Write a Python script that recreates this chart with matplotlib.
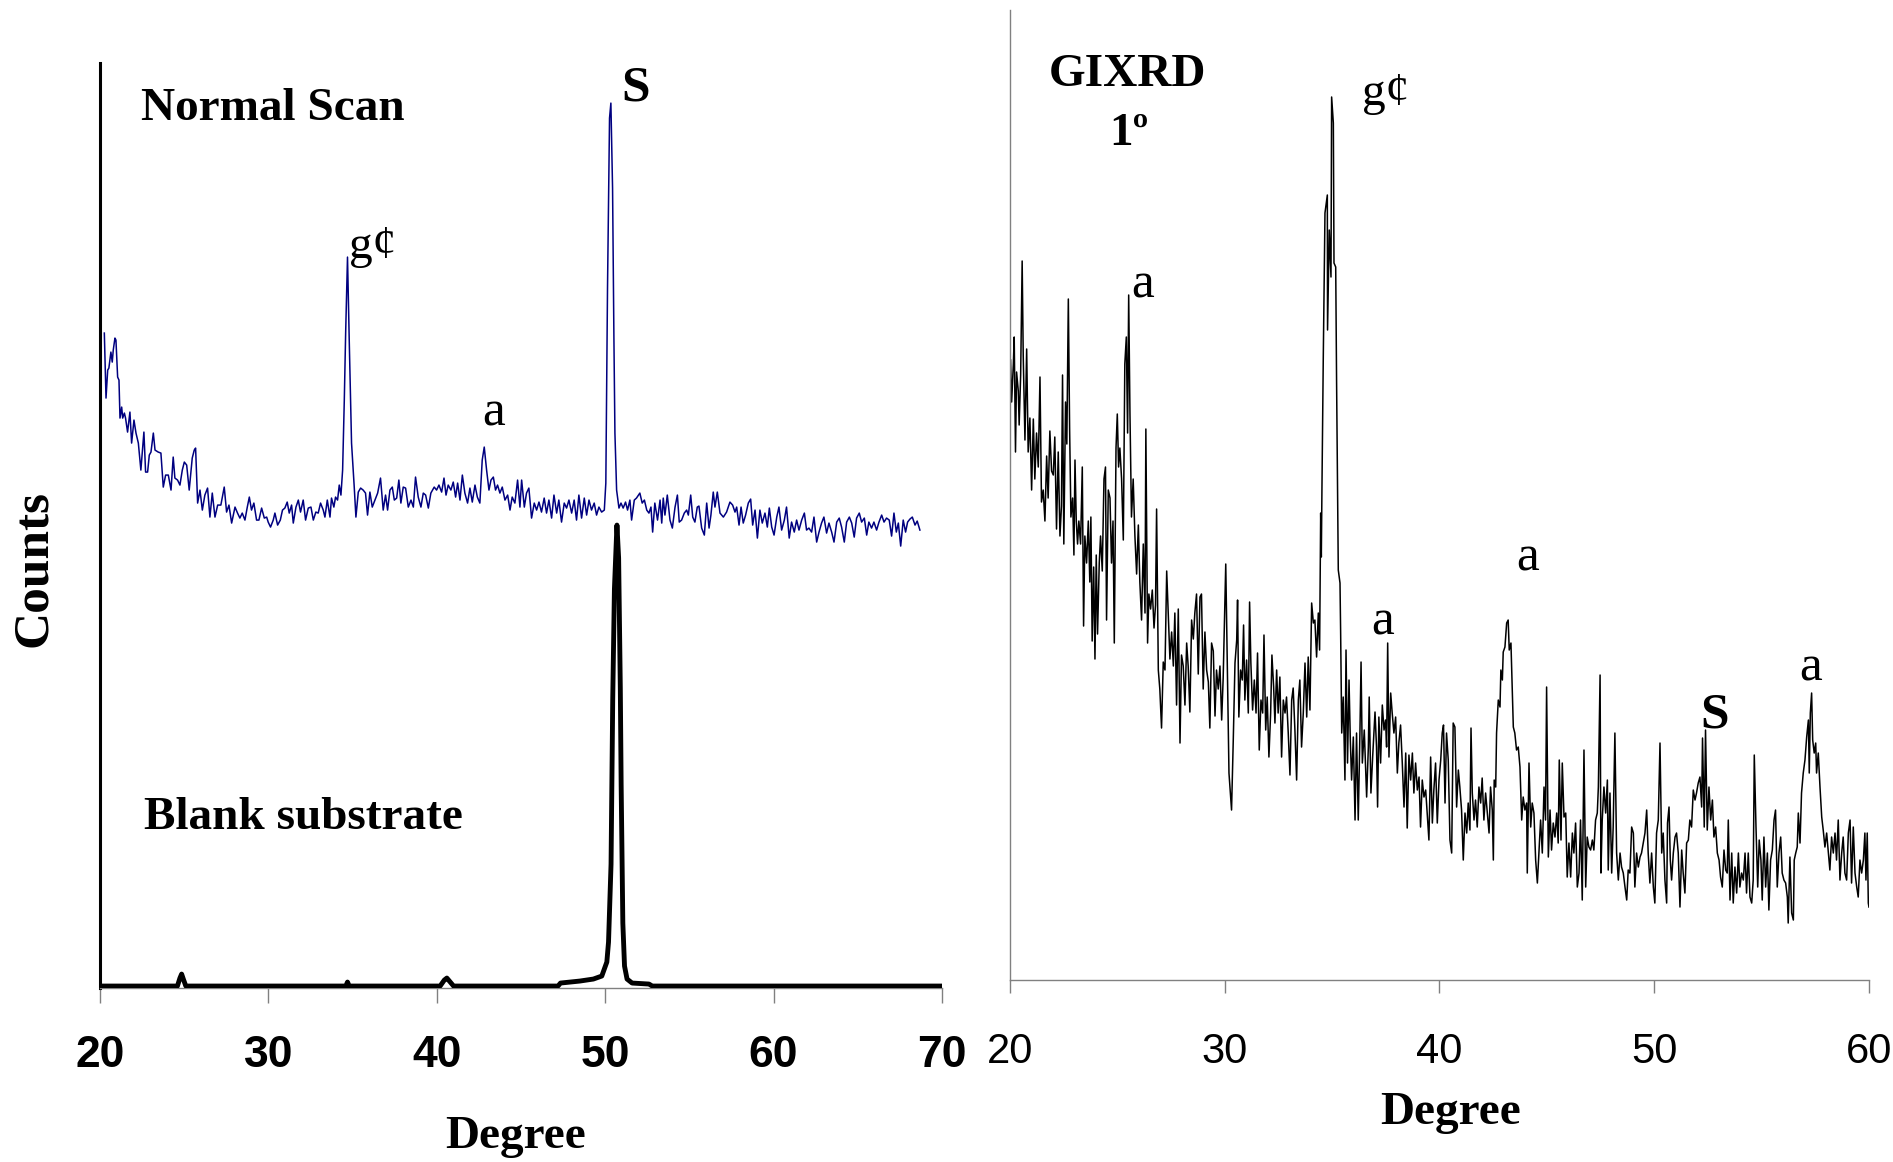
import matplotlib
matplotlib.use('Agg')
import matplotlib.pyplot as plt
from matplotlib import font_manager

# ---- data (2-theta in degrees, counts in arbitrary units) ----

# normal scan (blue trace, offset above the substrate)
normal_deg = [
    20.26, 20.36, 20.46, 20.53, 20.65, 20.73, 20.79, 20.89, 20.95, 21.05, 21.13, 21.19, 21.29, 21.35, 21.45,
    21.52, 21.64, 21.78, 21.88, 22.02, 22.14, 22.28, 22.43, 22.61, 22.71, 22.83, 22.93, 23.03, 23.17, 23.27,
    23.46, 23.62, 23.76, 23.90, 24.06, 24.22, 24.35, 24.45, 24.61, 24.75, 24.89, 25.01, 25.15, 25.30, 25.48,
    25.60, 25.68, 25.80, 25.94, 26.08, 26.23, 26.39, 26.53, 26.67, 26.83, 26.99, 27.18, 27.38, 27.52, 27.66,
    27.82, 28.02, 28.17, 28.31, 28.45, 28.61, 28.75, 28.87, 29.00, 29.14, 29.30, 29.44, 29.60, 29.76, 29.90,
    29.99, 30.13, 30.29, 30.39, 30.55, 30.71, 30.84, 30.98, 31.12, 31.24, 31.38, 31.48, 31.64, 31.78, 31.91,
    32.07, 32.21, 32.37, 32.53, 32.67, 32.82, 32.96, 33.10, 33.26, 33.36, 33.50, 33.66, 33.75, 33.89, 33.99,
    34.11, 34.21, 34.31, 34.41, 34.51, 34.59, 34.70, 34.80, 34.94, 35.10, 35.20, 35.34, 35.48, 35.63, 35.77,
    35.89, 36.03, 36.17, 36.33, 36.49, 36.66, 36.82, 36.96, 37.08, 37.22, 37.36, 37.48, 37.62, 37.75, 37.87,
    38.01, 38.15, 38.31, 38.47, 38.61, 38.74, 38.90, 39.06, 39.20, 39.34, 39.50, 39.65, 39.85, 39.99, 40.13,
    40.29, 40.43, 40.55, 40.68, 40.84, 40.98, 41.12, 41.24, 41.38, 41.52, 41.67, 41.83, 41.97, 42.11, 42.27,
    42.41, 42.56, 42.70, 42.82, 42.96, 43.10, 43.22, 43.36, 43.49, 43.61, 43.75, 43.89, 44.05, 44.21, 44.35,
    44.48, 44.64, 44.80, 44.94, 45.04, 45.20, 45.33, 45.47, 45.63, 45.79, 45.93, 46.07, 46.22, 46.38, 46.52,
    46.66, 46.82, 46.96, 47.12, 47.25, 47.41, 47.57, 47.71, 47.85, 48.01, 48.16, 48.30, 48.44, 48.60, 48.76,
    48.90, 49.04, 49.19, 49.35, 49.49, 49.63, 49.79, 49.95, 50.04, 50.14, 50.26, 50.34, 50.44, 50.52, 50.58,
    50.68, 50.82, 50.94, 51.07, 51.21, 51.33, 51.47, 51.57, 51.73, 51.86, 52.06, 52.20, 52.33, 52.47, 52.60,
    52.72, 52.82, 52.95, 53.11, 53.26, 53.36, 53.45, 53.55, 53.69, 53.85, 53.99, 54.15, 54.29, 54.40, 54.54,
    54.70, 54.84, 54.94, 55.08, 55.20, 55.33, 55.47, 55.57, 55.73, 55.89, 56.03, 56.17, 56.28, 56.42, 56.52,
    56.66, 56.82, 57.02, 57.21, 57.41, 57.57, 57.71, 57.81, 57.95, 58.07, 58.20, 58.34, 58.50, 58.64, 58.76,
    58.90, 59.04, 59.19, 59.33, 59.49, 59.63, 59.75, 59.89, 60.03, 60.19, 60.32, 60.48, 60.64, 60.77, 60.93,
    61.07, 61.23, 61.37, 61.51, 61.67, 61.83, 61.96, 62.10, 62.26, 62.40, 62.56, 62.70, 62.85, 62.99, 63.15,
    63.29, 63.45, 63.59, 63.75, 63.90, 64.04, 64.20, 64.34, 64.50, 64.64, 64.79, 64.93, 65.09, 65.23, 65.39,
    65.53, 65.66, 65.82, 65.96, 66.12, 66.26, 66.42, 66.56, 66.71, 66.87, 67.01, 67.15, 67.29, 67.41, 67.55,
    67.70, 67.84, 67.96, 68.10, 68.24, 68.40, 68.53, 68.69,
]
normal_counts = [
    655, 590, 618, 620, 636, 626, 638, 650, 648, 611, 608, 570, 581, 570, 575,
    570, 556, 576, 545, 568, 555, 545, 518, 556, 516, 516, 533, 536, 555, 538,
    536, 535, 501, 513, 513, 498, 531, 510, 508, 503, 518, 526, 523, 498, 530,
    538, 540, 485, 498, 478, 493, 500, 471, 495, 471, 483, 483, 501, 476, 483,
    465, 481, 475, 470, 475, 468, 481, 491, 478, 485, 468, 468, 480, 470, 471,
    466, 461, 468, 475, 463, 468, 478, 480, 486, 475, 483, 465, 481, 488, 476,
    488, 468, 480, 481, 468, 476, 475, 485, 478, 471, 488, 471, 490, 481, 491,
    488, 503, 493, 518, 588, 655, 731, 650, 545, 501, 471, 496, 500, 498, 495,
    473, 496, 481, 488, 495, 510, 478, 493, 478, 498, 501, 488, 490, 508, 485,
    501, 500, 481, 488, 481, 511, 491, 481, 495, 493, 480, 495, 501, 498, 503,
    496, 510, 493, 503, 498, 506, 491, 505, 488, 513, 495, 485, 500, 486, 503,
    491, 485, 528, 541, 518, 498, 508, 511, 498, 503, 495, 501, 488, 493, 478,
    491, 485, 508, 481, 508, 481, 495, 500, 470, 485, 478, 486, 476, 490, 475,
    488, 470, 493, 475, 488, 466, 485, 480, 488, 475, 488, 468, 493, 470, 490,
    473, 488, 478, 485, 473, 481, 476, 478, 505, 700, 870, 885, 800, 650, 555,
    498, 480, 485, 480, 486, 478, 488, 468, 488, 490, 495, 485, 488, 478, 475,
    481, 456, 485, 468, 488, 465, 490, 473, 493, 468, 460, 481, 493, 466, 468,
    475, 478, 473, 493, 471, 466, 481, 482, 460, 453, 485, 460, 473, 496, 481,
    496, 475, 471, 476, 486, 483, 476, 481, 463, 481, 465, 473, 485, 489, 463,
    478, 450, 478, 465, 475, 461, 480, 461, 453, 471, 481, 458, 468, 481, 450,
    466, 456, 468, 458, 468, 475, 458, 460, 456, 471, 446, 456, 465, 471, 455,
    465, 456, 446, 466, 470, 461, 446, 466, 471, 465, 451, 470, 475, 466, 470,
    453, 466, 460, 466, 458, 466, 473, 466, 470, 468, 452, 475, 456, 465, 442,
    468, 456, 466, 469, 471, 463, 467, 458,
]

# blank substrate (thick black trace)
substrate_deg = [20, 24.6, 24.75, 24.85, 24.95, 25.1, 34.6, 34.7, 34.8, 40.2, 40.45, 40.6, 40.75, 41.0,
                 47.2, 47.35, 48.5, 49.3, 49.8, 50.1, 50.2, 50.35, 50.45, 50.55, 50.7, 50.8, 50.9, 50.95,
                 51.05, 51.15, 51.3, 51.6, 52.6, 52.8, 70]
substrate_counts = [2, 2, 10, 14, 9, 2, 2, 6, 2, 2, 8, 10, 7, 2,
                    2, 5, 7, 9, 12, 26, 46, 124, 289, 399, 463, 430, 300, 203,
                    65, 22, 9, 5, 4, 2, 2]

# GIXRD at 1 degree incidence
gixrd_deg = [
    20.03, 20.08, 20.16, 20.20, 20.26, 20.31, 20.39, 20.43, 20.50, 20.57, 20.62, 20.70, 20.78, 20.85, 20.93,
    21.01, 21.09, 21.16, 21.24, 21.32, 21.40, 21.47, 21.55, 21.63, 21.71, 21.78, 21.86, 21.94, 22.02, 22.09,
    22.17, 22.25, 22.33, 22.40, 22.45, 22.51, 22.59, 22.65, 22.72, 22.78, 22.84, 22.92, 22.98, 23.03, 23.09,
    23.15, 23.21, 23.29, 23.37, 23.43, 23.49, 23.57, 23.65, 23.72, 23.77, 23.83, 23.90, 23.96, 24.02, 24.08,
    24.16, 24.22, 24.30, 24.38, 24.45, 24.50, 24.58, 24.66, 24.73, 24.80, 24.86, 24.94, 25.00, 25.06, 25.12,
    25.20, 25.28, 25.35, 25.42, 25.48, 25.53, 25.59, 25.66, 25.74, 25.82, 25.90, 25.98, 26.05, 26.13, 26.21,
    26.29, 26.33, 26.41, 26.47, 26.55, 26.63, 26.71, 26.78, 26.83, 26.91, 26.98, 27.06, 27.14, 27.22, 27.30,
    27.37, 27.45, 27.53, 27.61, 27.68, 27.76, 27.84, 27.92, 27.99, 28.07, 28.15, 28.23, 28.30, 28.38, 28.46,
    28.54, 28.61, 28.69, 28.77, 28.85, 28.92, 29.00, 29.08, 29.16, 29.24, 29.31, 29.39, 29.47, 29.55, 29.62,
    29.70, 29.78, 29.86, 29.93, 30.05, 30.20, 30.32, 30.40, 30.48, 30.56, 30.60, 30.66, 30.74, 30.82, 30.88,
    30.94, 31.02, 31.10, 31.16, 31.22, 31.30, 31.38, 31.46, 31.53, 31.61, 31.69, 31.77, 31.83, 31.91, 31.98,
    32.06, 32.14, 32.20, 32.28, 32.34, 32.42, 32.49, 32.57, 32.65, 32.73, 32.81, 32.88, 32.96, 33.04, 33.12,
    33.19, 33.27, 33.35, 33.43, 33.50, 33.58, 33.66, 33.74, 33.82, 33.89, 33.97, 34.05, 34.13, 34.20, 34.28,
    34.36, 34.42, 34.47, 34.50, 34.53, 34.59, 34.67, 34.78, 34.79, 34.87, 34.95, 34.98, 35.06, 35.09, 35.17,
    35.21, 35.29, 35.37, 35.40, 35.45, 35.52, 35.60, 35.65, 35.72, 35.79, 35.85, 35.91, 35.99, 36.07, 36.14,
    36.22, 36.30, 36.35, 36.41, 36.50, 36.61, 36.69, 36.73, 36.81, 36.89, 37.00, 37.07, 37.12, 37.18, 37.26,
    37.34, 37.42, 37.49, 37.54, 37.59, 37.65, 37.73, 37.80, 37.88, 37.96, 38.04, 38.11, 38.19, 38.27, 38.35,
    38.43, 38.50, 38.58, 38.66, 38.74, 38.81, 38.89, 38.97, 39.05, 39.12, 39.20, 39.28, 39.36, 39.43, 39.51,
    39.59, 39.67, 39.74, 39.82, 39.90, 39.98, 40.06, 40.13, 40.19, 40.26, 40.33, 40.41, 40.49, 40.57, 40.64,
    40.72, 40.80, 40.88, 40.95, 41.03, 41.11, 41.19, 41.27, 41.34, 41.42, 41.47, 41.53, 41.61, 41.68, 41.76,
    41.84, 41.92, 41.99, 42.07, 42.15, 42.23, 42.31, 42.38, 42.46, 42.51, 42.55, 42.62, 42.66, 42.74, 42.82,
    42.86, 42.93, 42.97, 43.05, 43.13, 43.20, 43.25, 43.33, 43.39, 43.44, 43.51, 43.59, 43.67, 43.75, 43.83,
    43.90, 43.98, 44.06, 44.09, 44.17, 44.25, 44.32, 44.40, 44.48, 44.56, 44.63, 44.71, 44.79, 44.87, 44.94,
    44.99, 45.07, 45.15, 45.22, 45.30, 45.38, 45.46, 45.53, 45.58, 45.66, 45.72, 45.80, 45.88, 45.95, 46.03,
    46.11, 46.19, 46.26, 46.34, 46.42, 46.50, 46.57, 46.65, 46.73, 46.81, 46.88, 46.96, 47.04, 47.12, 47.19,
    47.27, 47.35, 47.40, 47.48, 47.52, 47.58, 47.66, 47.74, 47.82, 47.86, 47.94, 48.02, 48.09, 48.17, 48.25,
    48.33, 48.41, 48.48, 48.56, 48.64, 48.72, 48.79, 48.87, 48.95, 49.03, 49.10, 49.18, 49.26, 49.34, 49.41,
    49.49, 49.57, 49.65, 49.72, 49.80, 49.88, 49.96, 50.03, 50.11, 50.19, 50.27, 50.35, 50.42, 50.50, 50.58,
    50.62, 50.69, 50.75, 50.81, 50.89, 50.97, 51.04, 51.12, 51.20, 51.28, 51.35, 51.43, 51.51, 51.59, 51.66,
    51.74, 51.82, 51.90, 51.97, 52.05, 52.13, 52.21, 52.25, 52.33, 52.39, 52.47, 52.55, 52.63, 52.71, 52.78,
    52.86, 52.94, 53.02, 53.09, 53.17, 53.25, 53.33, 53.40, 53.45, 53.53, 53.61, 53.68, 53.76, 53.84, 53.92,
    53.99, 54.07, 54.15, 54.23, 54.30, 54.38, 54.46, 54.54, 54.61, 54.66, 54.74, 54.82, 54.89, 54.97, 55.03,
    55.11, 55.19, 55.27, 55.34, 55.42, 55.50, 55.58, 55.65, 55.73, 55.81, 55.89, 55.96, 56.04, 56.12, 56.20,
    56.24, 56.32, 56.40, 56.48, 56.52, 56.59, 56.66, 56.71, 56.79, 56.86, 56.94, 57.02, 57.10, 57.18, 57.22,
    57.27, 57.33, 57.38, 57.45, 57.52, 57.56, 57.64, 57.72, 57.80, 57.87, 57.95, 58.03, 58.11, 58.18, 58.26,
    58.34, 58.42, 58.49, 58.57, 58.65, 58.73, 58.80, 58.88, 58.96, 59.04, 59.12, 59.19, 59.27, 59.35, 59.43,
    59.50, 59.58, 59.66, 59.74, 59.81, 59.86, 59.92, 59.97, 60.00,
]
gixrd_counts = [
    620, 578, 616, 643, 528, 608, 589, 555, 605, 719, 624, 540, 631, 528, 562,
    490, 561, 501, 547, 513, 603, 478, 490, 459, 524, 482, 549, 509, 505, 543,
    451, 528, 444, 474, 605, 436, 578, 536, 681, 551, 463, 482, 425, 520, 459,
    436, 459, 436, 513, 354, 444, 417, 459, 398, 463, 339, 413, 321, 425, 346,
    417, 444, 409, 501, 513, 360, 490, 482, 417, 459, 337, 532, 566, 513, 532,
    501, 440, 616, 643, 547, 685, 566, 463, 501, 444, 406, 455, 398, 360, 436,
    367, 551, 337, 386, 371, 390, 352, 375, 471, 310, 291, 252, 318, 310, 409,
    367, 321, 348, 314, 367, 275, 371, 237, 325, 314, 275, 337, 314, 268, 360,
    341, 367, 386, 306, 383, 386, 291, 348, 310, 298, 252, 337, 329, 264, 310,
    291, 314, 260, 302, 416, 207, 170, 240, 317, 340, 380, 263, 310, 300, 355,
    280, 320, 267, 378, 317, 270, 300, 267, 327, 230, 280, 267, 345, 250, 283,
    223, 267, 325, 293, 257, 310, 267, 303, 223, 280, 267, 283, 247, 205, 280,
    292, 250, 200, 280, 300, 233, 267, 317, 263, 323, 270, 377, 357, 360, 323,
    367, 330, 467, 423, 493, 620, 767, 785, 650, 750, 703, 883, 857, 717, 713,
    600, 410, 397, 347, 247, 283, 200, 330, 217, 300, 240, 200, 243, 160, 247,
    160, 250, 318, 217, 250, 183, 233, 283, 187, 223, 268, 233, 173, 263, 217,
    275, 250, 260, 233, 337, 223, 287, 267, 247, 263, 207, 237, 255, 217, 173,
    227, 152, 225, 200, 227, 187, 217, 190, 203, 153, 200, 183, 190, 167, 140,
    223, 157, 190, 217, 157, 200, 220, 247, 255, 177, 247, 220, 140, 127, 257,
    253, 173, 210, 193, 170, 120, 167, 147, 177, 150, 252, 187, 160, 180, 153,
    193, 177, 202, 160, 187, 167, 147, 193, 170, 120, 200, 193, 247, 280, 273,
    310, 300, 328, 333, 357, 360, 330, 337, 293, 253, 247, 230, 233, 213, 160,
    183, 170, 177, 107, 217, 153, 177, 167, 120, 97, 127, 160, 127, 193, 160,
    293, 123, 170, 130, 157, 143, 167, 137, 220, 140, 217, 163, 167, 103, 137,
    103, 147, 127, 157, 93, 107, 160, 80, 230, 93, 143, 133, 130, 140, 130,
    160, 167, 193, 305, 107, 160, 193, 167, 200, 110, 187, 107, 153, 247, 127,
    100, 127, 113, 107, 93, 80, 110, 107, 153, 147, 93, 127, 113, 123, 127,
    137, 147, 170, 127, 97, 127, 93, 77, 147, 160, 237, 127, 147, 100, 77,
    157, 173, 120, 100, 127, 143, 147, 127, 73, 130, 107, 87, 137, 140, 160,
    153, 190, 180, 187, 197, 203, 173, 242, 153, 250, 150, 193, 160, 180, 143,
    153, 127, 120, 103, 93, 130, 110, 107, 160, 80, 127, 77, 113, 87, 127,
    93, 107, 100, 127, 87, 127, 83, 77, 100, 225, 153, 93, 140, 120, 80,
    143, 93, 127, 70, 120, 130, 160, 170, 93, 127, 143, 107, 100, 97, 83,
    57, 123, 67, 60, 120, 127, 133, 167, 137, 187, 207, 220, 243, 260, 207,
    267, 287, 240, 227, 237, 207, 227, 193, 163, 150, 133, 147, 127, 110, 143,
    127, 147, 120, 160, 100, 127, 143, 107, 100, 147, 160, 97, 153, 107, 93,
    83, 120, 107, 120, 147, 100, 147, 77, 73,
]

left_ticks = [20, 30, 40, 50, 60, 70]
right_ticks = [20, 30, 40, 50, 60]

# ---- fonts ----
names = {f.name for f in font_manager.fontManager.ttflist}
narrow = 'Liberation Sans Narrow' if 'Liberation Sans Narrow' in names else 'Liberation Sans'
narrow_size = 36 if narrow == 'Liberation Sans Narrow' else 32
serif = 'Liberation Serif'

fig = plt.figure(figsize=(18.93, 11.62), dpi=100)
ax1 = fig.add_axes([0.0528, 0.1497, 0.4448, 0.7960])
ax2 = fig.add_axes([0.5335, 0.1566, 0.4538, 0.8348])

# ---- left panel: normal scan vs blank substrate ----
ax1.plot(substrate_deg, substrate_counts, color='black', lw=3.5, solid_joinstyle='round', zorder=3)
ax1.plot(normal_deg, normal_counts, color='#000080', lw=1.1, zorder=2)
ax1.set_xlim(20, 70)
ax1.set_ylim(0, 925)
ax1.set_yticks([])
ax1.set_xticks(left_ticks)
for s in ['top', 'right']:
    ax1.spines[s].set_visible(False)
ax1.spines['left'].set_linewidth(2.2)
ax1.spines['left'].set_color('black')
ax1.spines['bottom'].set_color('#808080')
ax1.spines['bottom'].set_linewidth(1)
ax1.tick_params(axis='x', direction='out', length=11, width=1, color='#808080', pad=23)
for lab in ax1.get_xticklabels():
    lab.set_fontfamily(narrow)
    lab.set_fontweight('bold')
    lab.set_fontsize(narrow_size)

ax1.text(22.43, 879, 'Normal Scan', family=serif, weight='bold', fontsize=34, ha='left', va='center')
ax1.text(22.61, 170, 'Blank substrate', family=serif, weight='bold', fontsize=34, ha='left', va='center')
ax1.text(51.83, 900, 'S', family=serif, weight='bold', fontsize=37, ha='center', va='center')
ax1.text(36.21, 741, 'g\u00a2', family=serif, fontsize=34, ha='center', va='center')
ax1.text(43.40, 575, 'a', family=serif, fontsize=37, ha='center', va='center')

# ---- right panel: GIXRD ----
ax2.plot(gixrd_deg, gixrd_counts, color='black', lw=1.1)
ax2.set_xlim(20, 60)
ax2.set_ylim(0, 970)
ax2.set_yticks([])
ax2.set_xticks(right_ticks)
for s in ['top', 'right']:
    ax2.spines[s].set_visible(False)
for s in ['left', 'bottom']:
    ax2.spines[s].set_color('#808080')
    ax2.spines[s].set_linewidth(1)
ax2.tick_params(axis='x', direction='out', length=9.5, width=1, color='#808080', pad=28)
for lab in ax2.get_xticklabels():
    lab.set_fontfamily('Liberation Sans')
    lab.set_fontsize(30)

ax2.text(25.49, 905, 'GIXRD', family=serif, weight='bold', fontsize=34, ha='center', va='center')
ax2.text(25.54, 846, '1\u00ba', family=serif, weight='bold', fontsize=34, ha='center', va='center')
ax2.text(37.51, 886, 'g\u00a2', family=serif, fontsize=34, ha='center', va='center')
for xd, yd in [(26.19, 695), (44.12, 422), (37.37, 358), (57.30, 312)]:
    ax2.text(xd, yd, 'a', family=serif, fontsize=37, ha='center', va='center')
ax2.text(52.83, 265, 'S', family=serif, weight='bold', fontsize=37, ha='center', va='center')

# axis titles
fig.text(34 / 1893, 1 - 569 / 1162, 'Counts', rotation=90, family=serif, weight='bold',
         fontsize=37, ha='center', va='center')
fig.text(516 / 1893, 1 - 1137 / 1162, 'Degree', family=serif, weight='bold', fontsize=34,
         ha='center', va='center')
fig.text(1451 / 1893, 1 - 1113 / 1162, 'Degree', family=serif, weight='bold', fontsize=34,
         ha='center', va='center')

fig.savefig('out.png', dpi=100)
